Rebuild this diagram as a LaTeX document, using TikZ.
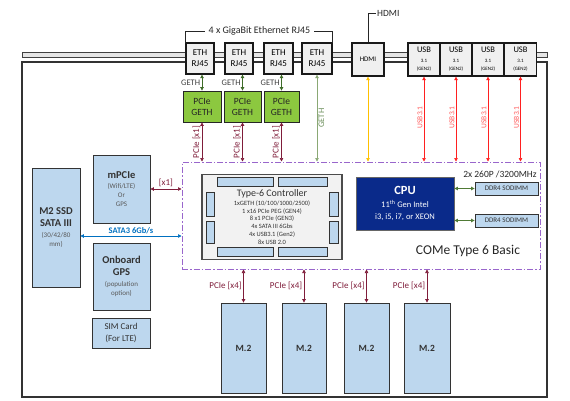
\documentclass[tikz,border=0pt]{standalone}
\usepackage{fontspec}
\setmainfont{Carlito}
\usetikzlibrary{arrows.meta}
\definecolor{lblue}{HTML}{BDD7EE}
\definecolor{ggreen}{HTML}{8CC83F}
\definecolor{navy}{HTML}{0A2A8A}
\definecolor{dpurple}{HTML}{9966CC}
\definecolor{maroon}{HTML}{7F1D3A}
\definecolor{gethc}{HTML}{3E6B28}
\definecolor{gethl}{HTML}{8AA874}
\definecolor{gethlt}{HTML}{6B8E5A}
\definecolor{usbred}{HTML}{FF2020}
\definecolor{usblbl}{HTML}{FF5A5A}
\definecolor{hdmic}{HTML}{FFC000}
\definecolor{ddrc}{HTML}{4F7A35}
\definecolor{satac}{HTML}{0070C0}
\definecolor{txtgray}{HTML}{595959}
\definecolor{boxline}{HTML}{333333}
\newcommand\fz[2]{\fontsize{#1}{#2}\selectfont}
\begin{document}
\begin{tikzpicture}[x=1pt,y=-1pt,
  box/.style n args={2}{minimum width=#1pt, minimum height=#2pt},
  conn/.style={draw=black!90, line width=1.3pt, fill=black!6, inner sep=0pt, align=center},
  lbox/.style={draw=boxline, line width=0.8pt, fill=lblue, inner sep=0pt, align=center, text=black!80},
  gbox/.style={draw=black!85, line width=0.8pt, fill=ggreen, inner sep=0pt, align=center, text=black!85},
  smallr/.style={draw=boxline, line width=0.6pt, fill=lblue},
  tip/.tip={Triangle[length=3.5pt,width=3.5pt]},
  arr/.style={{tip}-{tip}, line width=0.7pt},
  vlbl/.style={rotate=90, inner sep=1.2pt, midway}
]
\useasboundingbox (0,0) rectangle (570,400);

% rail and outer frame
\draw[fill=black!10, draw=black!75, line width=0.6pt] (22,52) rectangle (547,57.5);
\draw[line width=1.8pt, draw=black!80] (22,62) rectangle (547,397);

% top connectors
\node[conn, box={28}{31}, font=\fz{9}{11}] (eth1) at (200,58.5) {ETH\\RJ45};
\node[conn, box={28}{31}, font=\fz{9}{11}] (eth2) at (239,58.5) {ETH\\RJ45};
\node[conn, box={29}{31}, font=\fz{9}{11}] (eth3) at (278.5,58.5) {ETH\\RJ45};
\node[conn, box={30}{31}, font=\fz{9}{11}] (eth4) at (317,58.5) {ETH\\RJ45};
\node[conn, box={32}{33}, font=\fz{7}{8}] (hdmi) at (368,59.5) {HDMI};
\node[conn, box={32}{33}, font=\fz{5}{8.5}] (usb1) at (424,59.5) {\fz{8.5}{9.5}USB\\[1pt]3.1\\(GEN2)};
\node[conn, box={32}{33}, font=\fz{5}{8.5}] (usb2) at (456,59.5) {\fz{8.5}{9.5}USB\\[1pt]3.1\\(GEN2)};
\node[conn, box={32}{33}, font=\fz{5}{8.5}] (usb3) at (488,59.5) {\fz{8.5}{9.5}USB\\[1pt]3.1\\(GEN2)};
\node[conn, box={32}{33}, font=\fz{5}{8.5}] (usb4) at (520.5,59.5) {\fz{8.5}{9.5}USB\\[1pt]3.1\\(GEN2)};

% header labels
\node[inner sep=1pt, text=black!85, font=\fz{10}{11}] (gbtext) at (259.5,31) {4 x GigaBit Ethernet RJ45};
\draw[line width=0.7pt, black!85] ([yshift=-1pt]eth1.north west) -- (eth1.north west |- gbtext.west) -- ([xshift=-3pt]gbtext.west);
\draw[line width=0.7pt, black!85] ([xshift=3pt]gbtext.east) -- (eth4.north east |- gbtext.east) -- ([yshift=-1pt]eth4.north east);
\node[inner sep=1pt, anchor=west, text=black!85, font=\fz{9.5}{11}] (hdmilbl) at (376,13) {HDMI};
\draw[line width=0.7pt, black!85] (hdmi.north) |- (hdmilbl.west);

% green PCIe GETH
\node[gbox, box={38}{31}, font=\fz{9.5}{11}] (g1) at (202,106.5) {PCIe\\GETH};
\node[gbox, box={37}{31}, font=\fz{9.5}{11}] (g2) at (242.5,106.5) {PCIe\\GETH};
\node[gbox, box={35}{31}, font=\fz{9.5}{11}] (g3) at (281.5,106.5) {PCIe\\GETH};

% COMe area
\node[draw=dpurple, line width=1pt, dash pattern=on 6pt off 2pt on 1.5pt off 2pt, box={358}{107}] (come) at (361,215.5) {};
\node[text=black!85, font=\fz{13.5}{15}] (comelbl) at (468,251) {COMe Type 6 Basic};

% controller
\node[draw=black!70, line width=1.4pt, fill=black!5, box={140}{85}, align=center, inner sep=0pt, text=black!80, font=\fz{6.5}{7.8}] (ctrl) at (272,217)
  {\fz{10}{10}Type-6 Controller\\[1pt]1xGETH (10/100/1000/2500)\\1 x16 PCIe PEG (GEN4)\\8 x1 PCIe (GEN3)\\4x SATA III 6Gbs\\4x USB3.1 (Gen2)\\8x USB 2.0};
\draw[smallr] (217,177) rectangle (273,186);
\draw[smallr] (278,177) rectangle (327,186);
\draw[smallr] (217,247) rectangle (273,256);
\draw[smallr] (278,247) rectangle (327,256);
\draw[smallr] (206,192) rectangle (214,216);
\draw[smallr] (206,221) rectangle (214,243);
\draw[smallr] (329,192) rectangle (338,216);
\draw[smallr] (329,221) rectangle (338,243);

% CPU and DDR
\node[draw=black!60, line width=0.8pt, fill=navy, box={98}{53}, align=center, inner sep=0pt, text=white, font=\fz{8.5}{12}] (cpu) at (405,203.5)
  {\fz{12.5}{14}\textbf{CPU}\\[1pt]11\textsuperscript{th} Gen Intel\\i3, i5, i7, or XEON};
\node[lbox, box={63}{13}, font=\fz{7}{8}] (ddr1) at (506.5,188.5) {DDR4 SODIMM};
\node[lbox, box={63}{13}, font=\fz{7}{8}] (ddr2) at (506.5,220.5) {DDR4 SODIMM};
\node[text=black!85, inner sep=0pt, font=\fz{9.5}{11}] (ddrlbl) at (500,174) {2x 260P /3200MHz};
\draw[arr, ddrc] (cpu.east |- ddr1.west) -- (ddr1.west);
\draw[arr, ddrc] (cpu.east |- ddr2.west) -- (ddr2.west);

% left column
\node[lbox, box={48}{119}, font=\fz{7}{8.5}] (ssd) at (56,227.5) {\fz{10.5}{12}\bfseries M2 SSD\\[3.5pt]\fz{10.5}{12}\bfseries SATA III\\[2.5pt]\color{txtgray}(30/42/80\\\color{txtgray}mm)};
\node[lbox, box={57}{68}, font=\fz{7}{9}] (mpcie) at (121.5,189) {\fz{10.5}{11}\bfseries mPCIe\\[1pt]\color{txtgray}(Wifi/LTE)\\\color{txtgray}Or\\\color{txtgray}GPS};
\node[lbox, box={57}{67}, font=\fz{7}{8.5}] (gps) at (121.5,276.5) {\fz{10.5}{12}\bfseries Onboard\\[3.5pt]\fz{10.5}{12}\bfseries GPS\\[2.5pt]\color{txtgray}(population\\\color{txtgray}option)};
\node[lbox, box={58}{30}, font=\fz{9}{12}] (sim) at (121,333) {SIM Card\\(For LTE)};

\draw[arr, maroon] (mpcie.east) -- node[above, inner sep=1.5pt, text=maroon, font=\fz{9}{10}]{[x1]} (mpcie.east -| come.west);
\draw[arr, satac] ([yshift=-8.5pt]ssd.east) -- node[above, inner sep=1.5pt, text=satac, font=\fz{8.5}{10}\bfseries]{SATA3 6Gb/s} ([yshift=-8.5pt]ssd.east -| come.west);

% M.2 slots
\node[lbox, box={45}{90}, font=\fz{9.5}{11}\bfseries] (m1) at (243.5,348) {M.2};
\node[lbox, box={44}{90}, font=\fz{9.5}{11}\bfseries] (m2) at (304,348) {M.2};
\node[lbox, box={45}{90}, font=\fz{9.5}{11}\bfseries] (m3) at (366.5,348) {M.2};
\node[lbox, box={46}{90}, font=\fz{9.5}{11}\bfseries] (m4) at (427,348) {M.2};
\foreach \m in {m1,m2,m3,m4}
  \draw[arr, maroon] (\m.north |- come.south) -- node[left, inner sep=1.5pt, text=maroon, font=\fz{9}{10}]{PCIe [x4]} (\m.north);

% GETH links
\foreach \e/\g in {eth1/g1,eth2/g2,eth3/g3}{
  \draw[arr, gethc] (\g.north |- \e.south) -- node[left, inner sep=1.5pt, text=black!75, font=\fz{8.5}{10}]{GETH} (\g.north);
  \draw[arr, maroon] (\g.south) -- node[vlbl, anchor=south, text=maroon, font=\fz{9}{10}]{PCIe [x1]} (\g.south |- come.north);
}
\draw[arr, gethl] (eth4.south) -- node[vlbl, anchor=north, text=gethlt, font=\fz{8.5}{10}]{GETH} (eth4.south |- come.north);
\draw[arr, hdmic] (hdmi.south) -- (hdmi.south |- come.north);
\foreach \u in {usb1,usb2,usb3,usb4}
  \draw[arr, usbred] (\u.south) -- node[vlbl, anchor=south, text=usblbl, pos=0.48, font=\fz{7.5}{9}]{USB3.1} (\u.south |- come.north);
\end{tikzpicture}
\end{document}
